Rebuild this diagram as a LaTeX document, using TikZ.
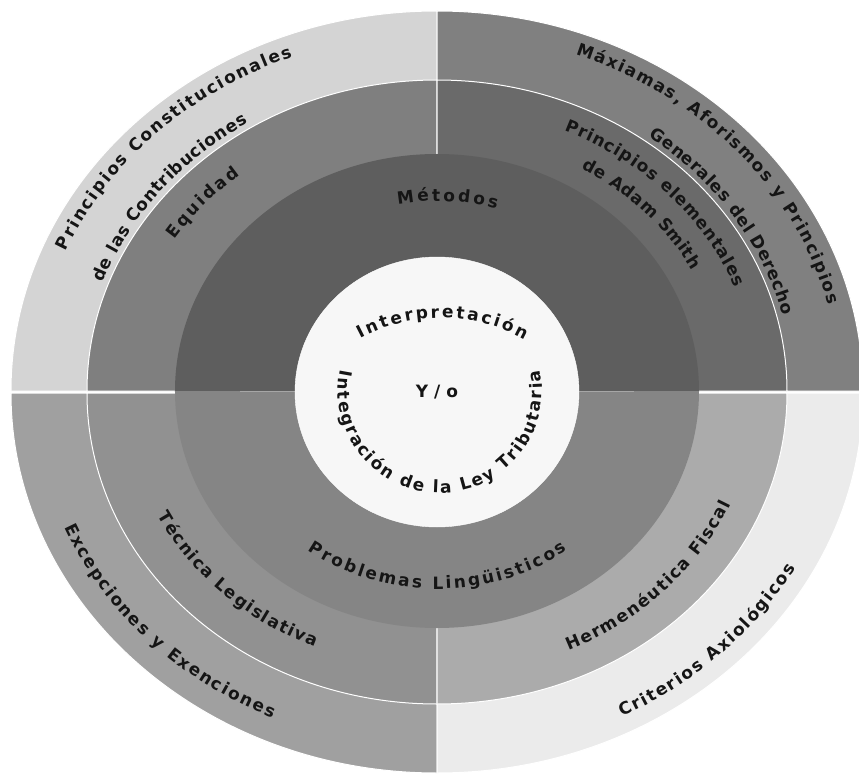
\documentclass[tikz,border=0pt]{standalone}
\usepackage{fontspec}
\setmainfont{DejaVu Sans}
\usetikzlibrary{decorations.text,shapes.geometric}

\definecolor{ulout}{HTML}{D4D4D4}
\definecolor{urout}{HTML}{808080}
\definecolor{llout}{HTML}{A0A0A0}
\definecolor{lrout}{HTML}{EBEBEB}
\definecolor{ulmid}{HTML}{7F7F7F}
\definecolor{urmid}{HTML}{6A6A6A}
\definecolor{llmid}{HTML}{919191}
\definecolor{lrmid}{HTML}{ABABAB}
\definecolor{intop}{HTML}{5E5E5E}
\definecolor{inbot}{HTML}{858585}
\definecolor{corefill}{HTML}{F7F7F7}
\definecolor{ink}{HTML}{151515}

\newcommand\ringfont{\fontsize{17}{20}\selectfont\bfseries}
\newcommand\corefont{\fontsize{17}{20}\selectfont\bfseries}

\tikzset{
  sector/.style={draw=white, line width=1pt},
  ringtext/.style={decorate, decoration={text along path, text align={fit to path},
      text color=ink, text={|\ringfont|#1}}},
  coretext/.style={decorate, decoration={text along path, text align={fit to path},
      text color=ink, text={|\corefont|#1}}},
}

\begin{document}
\begin{tikzpicture}
  \useasboundingbox (-437pt,-383pt) rectangle (422pt,391pt);

  % quadrants: outer and middle rings
  \foreach \s/\e/\oc/\mc/\dy in {90/180/ulout/ulmid/0, 0/90/urout/urmid/0,
                                 180/270/llout/llmid/-2, 270/360/lrout/lrmid/-2}{
    \begin{scope}[yshift=\dy]
      \filldraw[sector, fill=\oc] (0,0) -- (\s:426pt and 380pt)
        arc[start angle=\s, end angle=\e, x radius=426pt, y radius=380pt] -- cycle;
      \filldraw[sector, fill=\mc] (0,0) -- (\s:350pt and 311pt)
        arc[start angle=\s, end angle=\e, x radius=350pt, y radius=311pt] -- cycle;
    \end{scope}
  }

  % inner ring
  \fill[intop] (0,0) -- (0:262pt and 237pt)
    arc[start angle=0, end angle=180, x radius=262pt, y radius=237pt] -- cycle;
  \fill[inbot] (0,-1pt) -- (180:262pt and 237pt)
    arc[start angle=180, end angle=360, x radius=262pt, y radius=237pt] -- cycle;

  % core
  \node[ellipse, minimum width=284pt, minimum height=270pt, fill=corefill,
        draw=white, text=ink, font=\corefont] (core) at (0,-1pt) {Y~/~o};

  % labels
  \path[ringtext={Principios Constitucionales}] (157:403pt and 358pt)
    arc[start angle=157, end angle=111, x radius=403pt, y radius=358pt];
  \path[ringtext={de las Contribuciones}] (160:356pt and 316pt)
    arc[start angle=160, end angle=122, x radius=356pt, y radius=316pt];
  \path[ringtext={Equidad}] (147:313pt and 278pt)
    arc[start angle=147, end angle=129, x radius=313pt, y radius=278pt];
  \path[ringtext={Métodos}] (100.7:210pt and 190pt)
    arc[start angle=100.7, end angle=73.5, x radius=210pt, y radius=190pt];
  \path[ringtext={Máxiamas, Aforismos y Principios}] (69.9:403pt and 358pt)
    arc[start angle=69.9, end angle=13.9, x radius=403pt, y radius=358pt];
  \path[ringtext={Generales del Derecho}] (53.6:356pt and 316pt)
    arc[start angle=53.6, end angle=13.8, x radius=356pt, y radius=316pt];
  \path[ringtext={Principios elementales}] (66.6:320pt and 284pt)
    arc[start angle=66.6, end angle=21.4, x radius=320pt, y radius=284pt];
  \path[ringtext={de Adam Smith}] (60:289pt and 257pt)
    arc[start angle=60, end angle=28, x radius=289pt, y radius=257pt];
  \path[ringtext={Excepciones y Exenciones}] (202.4:403pt and 358pt)
    arc[start angle=202.4, end angle=245.9, x radius=403pt, y radius=358pt];
  \path[ringtext={Técnica Legislativa}] (206.7:313pt and 278pt)
    arc[start angle=206.7, end angle=247, x radius=313pt, y radius=278pt];
  \path[ringtext={Problemas Lingüisticos}] (233.8:219pt and 198pt)
    arc[start angle=233.8, end angle=306.5, x radius=219pt, y radius=198pt];
  \path[ringtext={Hermenéutica Fiscal}] (294.3:320pt and 285pt)
    arc[start angle=294.3, end angle=336.6, x radius=320pt, y radius=285pt];
  \path[ringtext={Criterios Axiológicos}] (296.8:410pt and 365pt)
    arc[start angle=296.8, end angle=331, x radius=410pt, y radius=365pt];

  \path[coretext={Interpretación}] ([shift={(4pt,-99pt)}]118:172pt)
    arc[start angle=118, end angle=61, radius=172pt];
  \path[coretext={Integración de la Ley Tributaria}] ([shift={(3pt,0pt)}]168:102pt)
    arc[start angle=168, end angle=372, radius=102pt];
\end{tikzpicture}
\end{document}
